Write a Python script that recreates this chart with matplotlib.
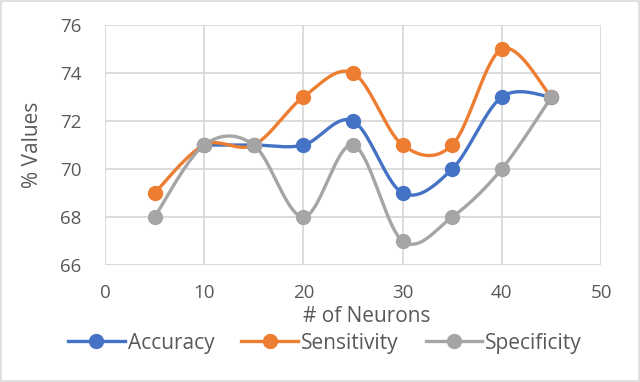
import numpy as np
import matplotlib.pyplot as plt
from matplotlib.patches import Rectangle

# data
neurons = [5, 10, 15, 20, 25, 30, 35, 40, 45]
accuracy_x = [10, 15, 20, 25, 30, 35, 40, 45]
accuracy = [71, 71, 71, 72, 69, 70, 73, 73]
sensitivity = [69, 71, 71, 73, 74, 71, 71, 75, 73]
specificity = [68, 71, 71, 68, 71, 67, 68, 70, 73]

x_ticks = [0, 10, 20, 30, 40, 50]
y_ticks = [66, 68, 70, 72, 74, 76]

BLUE = "#4472C4"
ORANGE = "#ED7D31"
GRAY = "#A5A5A5"
TEXT = "#595959"
GRID = "#D9D9D9"

plt.rcParams['font.family'] = ['Open Sans', 'DejaVu Sans']


def smooth(xs, ys, n=40):
    # Excel style smoothed line: bezier segments with catmull-rom control points
    p = np.column_stack([xs, ys]).astype(float)
    pts = np.vstack([p[0], p, p[-1]])
    t = np.linspace(0, 1, n)[:, None]
    out = []
    for i in range(1, len(pts) - 2):
        p0, p1 = pts[i], pts[i + 1]
        c1 = p0 + (pts[i + 1] - pts[i - 1]) / 6
        c2 = p1 - (pts[i + 2] - pts[i]) / 6
        seg = ((1 - t) ** 3) * p0 + 3 * ((1 - t) ** 2) * t * c1 \
            + 3 * (1 - t) * t ** 2 * c2 + t ** 3 * p1
        out.append(seg)
    s = np.vstack(out)
    return s[:, 0], s[:, 1]


fig = plt.figure(figsize=(6.4, 3.82), dpi=100)
ax = fig.add_axes([105 / 640, 1 - 265 / 382, 496 / 640, 240 / 382])

series = [
    ("Accuracy", accuracy_x, accuracy, BLUE),
    ("Sensitivity", neurons, sensitivity, ORANGE),
    ("Specificity", neurons, specificity, GRAY),
]
handles = []
for name, xs, ys, col in series:
    sx, sy = smooth(xs, ys)
    ax.plot(sx, sy, color=col, lw=2.4, solid_capstyle='round', zorder=3)
    ax.plot(xs, ys, 'o', color=col, ms=10, zorder=4)
    h, = ax.plot([], [], '-o', color=col, lw=2.4, ms=10, label=name)
    handles.append(h)

ax.set_xlim(0, 50)
ax.set_ylim(66, 76)
ax.set_xticks(x_ticks)
ax.set_yticks(y_ticks)
ax.grid(True, color=GRID, lw=1.3, zorder=0)
for sp in ax.spines.values():
    sp.set_visible(False)
ax.axvline(0, color=GRID, lw=1.3, zorder=1)
ax.axhline(66, color=GRID, lw=1.3, zorder=1)
ax.tick_params(length=0, labelsize=13.5, labelcolor=TEXT)
ax.tick_params(axis='y', pad=17)
ax.tick_params(axis='x', pad=14)

ax.set_ylabel("% Values", fontsize=15, color=TEXT)
ax.yaxis.set_label_coords(-0.125, 0.5)
ax.set_xlabel("# of Neurons", fontsize=15, color=TEXT)
ax.xaxis.set_label_coords(0.528, -0.172)

fig.legend(handles=handles, loc='center', bbox_to_anchor=(325 / 640, 1 - 343 / 382),
           ncol=3, frameon=False, fontsize=15, handlelength=2.7,
           handletextpad=0.15, columnspacing=1.3, labelcolor=TEXT)

fig.patches.append(Rectangle((0.002, 0.003), 0.996, 0.994, transform=fig.transFigure,
                             fill=False, edgecolor=GRID, lw=1.2))

fig.savefig("out.png", dpi=100)
